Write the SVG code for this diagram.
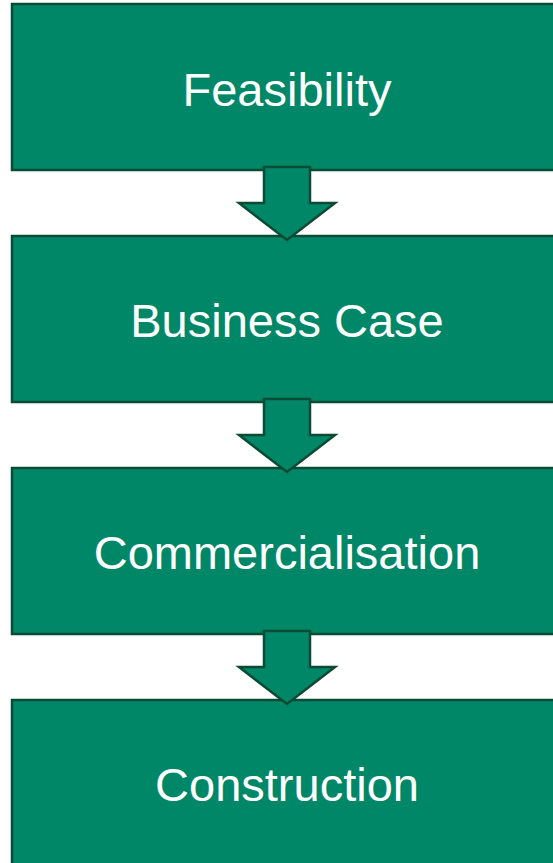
<svg xmlns="http://www.w3.org/2000/svg" width="553" height="863" viewBox="0 0 553 863">
<style>
.box{fill:#008767;stroke:#0b4a33;stroke-width:2.5}
.arr{fill:#008767;stroke:#0b4a33;stroke-width:2.5;stroke-linejoin:miter}
.lbl{font-family:"Liberation Sans",Arial,sans-serif;font-size:47px;fill:#ffffff;text-anchor:middle}
</style>
<rect width="553" height="863" fill="#ffffff"/>
<g id="node-feasibility"><rect class="box" x="12" y="4" width="552" height="166"/><text class="lbl" x="287" y="106">Feasibility</text></g>
<g id="node-business-case"><rect class="box" x="12" y="236" width="552" height="166"/><text class="lbl" x="287" y="337">Business Case</text></g>
<g id="node-commercialisation"><rect class="box" x="12" y="468" width="552" height="166"/><text class="lbl" x="287" y="569">Commercialisation</text></g>
<g id="node-construction"><rect class="box" x="12" y="700" width="552" height="170"/><text class="lbl" x="287" y="801">Construction</text></g>
<g id="connectors">
<path class="arr" d="M264,167 H310 V203 H335 L287,240 L239,203 H264 Z"/>
<path class="arr" d="M264,399 H310 V435 H335 L287,472 L239,435 H264 Z"/>
<path class="arr" d="M264,631 H310 V667 H335 L287,704 L239,667 H264 Z"/>
</g>
</svg>
